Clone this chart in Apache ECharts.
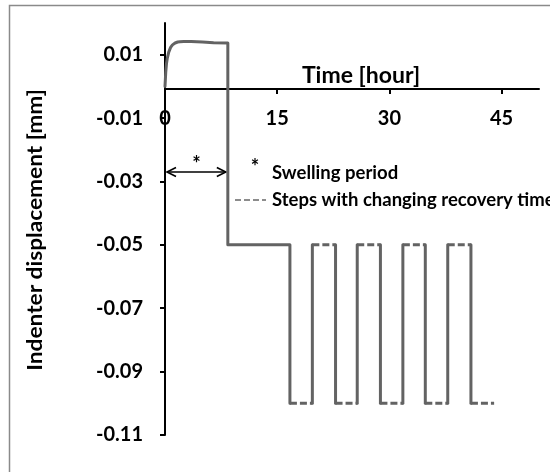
<!DOCTYPE html>
<html>
<head>
<meta charset="utf-8">
<title>Indenter displacement</title>
<script src="https://cdn.jsdelivr.net/npm/echarts@6/dist/echarts.min.js"></script>
<style>
  html, body { margin: 0; padding: 0; background: #fff; }
  #chart { width: 550px; height: 472px; }
</style>
</head>
<body>
<div id="chart"></div>
<script>
// Swelling phase: displacement rises quickly, then creeps down slightly
const swellTime = [0, 0.1, 0.2, 0.3, 0.5, 0.75, 1.0, 1.35, 1.7, 2.0, 2.5, 3.5, 5.0, 6.5, 8.4];
const swellDisp = [0, 0.0045, 0.0072, 0.0088, 0.0108, 0.0123, 0.0131, 0.0137, 0.0140, 0.0141, 0.0142, 0.0142, 0.0140, 0.0138, 0.0137];

// Load steps: switching times [hour] and the displacement level held after each switch [mm]
const stepTime = [8.4, 16.7, 19.7, 22.8, 25.7, 28.8, 31.8, 34.8, 37.8, 40.9];
const stepLevel = [-0.05, -0.10, -0.05, -0.10, -0.05, -0.10, -0.05, -0.10, -0.05, -0.10];
const endTime = 44.0;

// Swelling period marker (double arrow) spans these times at this level
const swellSpan = [0, 8.4];
const swellSpanLevel = -0.027;

// Axis ticks
const xTicks = [0, 15, 30, 45];
const yTicks = [0.01, -0.01, -0.03, -0.05, -0.07, -0.09, -0.11];
const yMin = -0.11, yMax = 0.02;

const LINE_COLOR = '#636363';
const FONT = 'Lato';

// Solid trace: swelling curve, first drop, hold at first level, second drop
const solidMain = swellTime.map((t, i) => [t, swellDisp[i]]);
solidMain.push([stepTime[0], stepLevel[0]]);
solidMain.push([stepTime[1], stepLevel[0]]);
solidMain.push([stepTime[1], stepLevel[1]]);

const series = [];
const solidStyle = { color: LINE_COLOR, width: 3, cap: 'round', join: 'round' };
series.push({
  type: 'line', data: solidMain, symbol: 'none', silent: true,
  lineStyle: solidStyle
});

// Later switches: vertical transitions solid, holding levels dashed
for (let i = 2; i < stepTime.length; i++) {
  series.push({
    type: 'line', symbol: 'none', silent: true,
    data: [[stepTime[i], stepLevel[i - 1]], [stepTime[i], stepLevel[i]]],
    lineStyle: solidStyle
  });
}
for (let i = 1; i < stepTime.length; i++) {
  const tEnd = i + 1 < stepTime.length ? stepTime[i + 1] : endTime;
  series.push({
    type: 'line', symbol: 'none', silent: true,
    data: [[stepTime[i], stepLevel[i]], [tEnd, stepLevel[i]]],
    lineStyle: { color: LINE_COLOR, width: 3, type: [7, 3], cap: 'butt' }
  });
}

// Double-headed arrow marking the swelling period
series.push({
  type: 'custom', silent: true,
  data: [[swellSpan[0], swellSpan[1], swellSpanLevel]],
  renderItem: function (params, api) {
    const a = api.coord([api.value(0), api.value(2)]);
    const b = api.coord([api.value(1), api.value(2)]);
    const x0 = a[0] + 2, x1 = b[0] - 2, y = a[1];
    const hl = 9, hw = 4.5;
    const st = { stroke: '#000', lineWidth: 1.6, fill: null };
    return {
      type: 'group',
      children: [
        { type: 'line', shape: { x1: x0, y1: y, x2: x1, y2: y }, style: st },
        { type: 'polyline', shape: { points: [[x0 + hl, y - hw], [x0, y], [x0 + hl, y + hw]] }, style: st },
        { type: 'polyline', shape: { points: [[x1 - hl, y - hw], [x1, y], [x1 - hl, y + hw]] }, style: st },
        { type: 'text', style: { text: '*', x: (x0 + x1) / 2, y: y - 7, align: 'center', verticalAlign: 'middle',
          font: 'bold 20px ' + FONT, fill: '#000' } }
      ]
    };
  }
});

const chart = echarts.init(document.getElementById('chart'), null, { renderer: 'canvas' });
chart.setOption({
  animation: false,
  backgroundColor: '#fff',
  grid: { left: 165, top: 23, right: 11, bottom: 37, containLabel: false },
  xAxis: {
    type: 'value', min: 0, max: 50,
    axisLine: { onZero: false, lineStyle: { color: '#000', width: 2 } },
    axisTick: { show: true, customValues: xTicks, length: 5, inside: false, lineStyle: { color: '#000', width: 2 } },
    axisLabel: { customValues: xTicks, margin: 20, color: '#000', fontFamily: FONT, fontWeight: 'bold', fontSize: 20 },
    splitLine: { show: false }
  },
  yAxis: {
    type: 'value', min: yMin, max: yMax,
    axisLine: { show: true, lineStyle: { color: '#000', width: 2 } },
    axisTick: { show: true, customValues: yTicks, length: 5, lineStyle: { color: '#000', width: 2 } },
    axisLabel: { customValues: yTicks, margin: 22, color: '#000', fontFamily: FONT, fontWeight: 'bold', fontSize: 20,
      formatter: v => v.toFixed(2) },
    splitLine: { show: false }
  },
  graphic: [
    { type: 'rect', silent: true, shape: { x: 9.5, y: 5.5, width: 700, height: 700 },
      style: { stroke: '#8a8a8a', lineWidth: 1.5, fill: null } },
    { type: 'text', silent: true, x: 35, y: 230, rotation: Math.PI / 2, scaleX: 1.08,
      style: { text: 'Indenter displacement [mm]', x: 0, y: 0, align: 'center', verticalAlign: 'middle',
        font: 'bold 21px ' + FONT, fill: '#000' } },
    { type: 'text', silent: true, style: { text: 'Time [hour]', x: 361, y: 76, align: 'center', verticalAlign: 'middle',
      font: 'bold 23px ' + FONT, fill: '#000' } },
    { type: 'text', silent: true, style: { text: '*', x: 255, y: 168, align: 'center', verticalAlign: 'middle',
      font: 'bold 20px ' + FONT, fill: '#000' } },
    { type: 'text', silent: true, style: { text: 'Swelling period', x: 272, y: 173, align: 'left', verticalAlign: 'middle',
      font: 'bold 18.5px ' + FONT, fill: '#000' } },
    { type: 'line', silent: true, shape: { x1: 235, y1: 200, x2: 266, y2: 200 },
      style: { stroke: '#8c8c8c', lineWidth: 2, lineDash: [6, 3] } },
    { type: 'text', silent: true, style: { text: 'Steps with changing recovery time', x: 272, y: 200, align: 'left', verticalAlign: 'middle',
      font: 'bold 18.5px ' + FONT, fill: '#000' } }
  ],
  series: series
});

// The time axis crosses the displacement axis at zero: shift it (line, ticks, labels) up to that level
const zeroY = chart.convertToPixel({ yAxisIndex: 0 }, 0);
const baseY = chart.convertToPixel({ yAxisIndex: 0 }, yMin);
chart.setOption({ xAxis: { offset: -(baseY - zeroY) } });
</script>
</body>
</html>
